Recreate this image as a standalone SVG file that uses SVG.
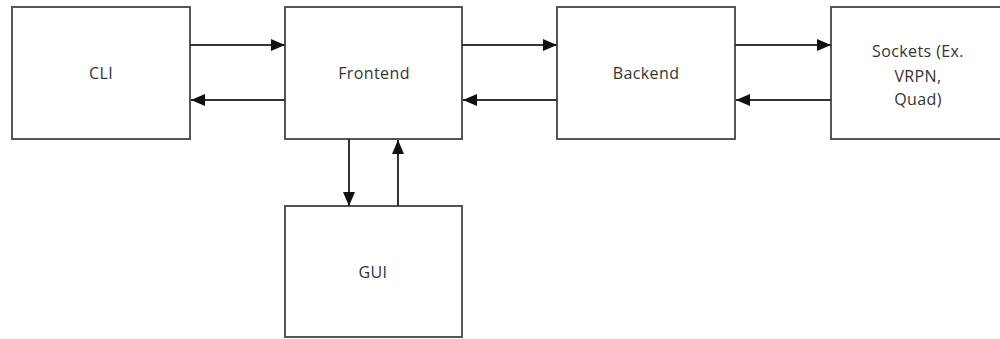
<svg xmlns="http://www.w3.org/2000/svg" width="1000" height="339" viewBox="0 0 1000 339">
<style>
.box{fill:#fff;stroke:#555;stroke-width:2}
.lbl{font-family:"Open Sans","Liberation Sans",sans-serif;font-size:16px;letter-spacing:0.4px;fill:#333;text-anchor:middle;dominant-baseline:central}
.c{stroke:#333;stroke-width:2;fill:none;marker-end:url(#ah)}
</style>
<defs>
<marker id="ah" viewBox="0 0 14 12" refX="14" refY="6" markerWidth="14" markerHeight="12" markerUnits="userSpaceOnUse" orient="auto">
<path d="M0,0 L14,6 L0,12 Z" fill="#111"/>
</marker>
</defs>
<rect width="1000" height="339" fill="#fff"/>
<g id="cli"><rect class="box" x="12" y="7" width="178" height="132"/><text class="lbl" x="101" y="73">CLI</text></g>
<g id="frontend"><rect class="box" x="285" y="7" width="177" height="132"/><text class="lbl" x="374" y="73">Frontend</text></g>
<g id="backend"><rect class="box" x="557" y="7" width="178" height="132"/><text class="lbl" x="646" y="73">Backend</text></g>
<g id="sockets"><rect class="box" x="831" y="7" width="175" height="132"/><text class="lbl" x="918" y="51">Sockets (Ex.</text><text class="lbl" x="918" y="76">VRPN,</text><text class="lbl" x="918" y="99">Quad)</text></g>
<g id="gui"><rect class="box" x="285" y="206" width="177" height="131"/><text class="lbl" x="373" y="272">GUI</text></g>
<g id="connectors">
<line class="c" x1="190" y1="45" x2="285" y2="45"/>
<line class="c" x1="285" y1="100" x2="191" y2="100"/>
<line class="c" x1="462" y1="45" x2="557" y2="45"/>
<line class="c" x1="557" y1="100" x2="463" y2="100"/>
<line class="c" x1="735" y1="45" x2="831" y2="45"/>
<line class="c" x1="831" y1="100" x2="736" y2="100"/>
<line class="c" x1="349" y1="139" x2="349" y2="206"/>
<line class="c" x1="398" y1="206" x2="398" y2="140"/>
</g>
</svg>
